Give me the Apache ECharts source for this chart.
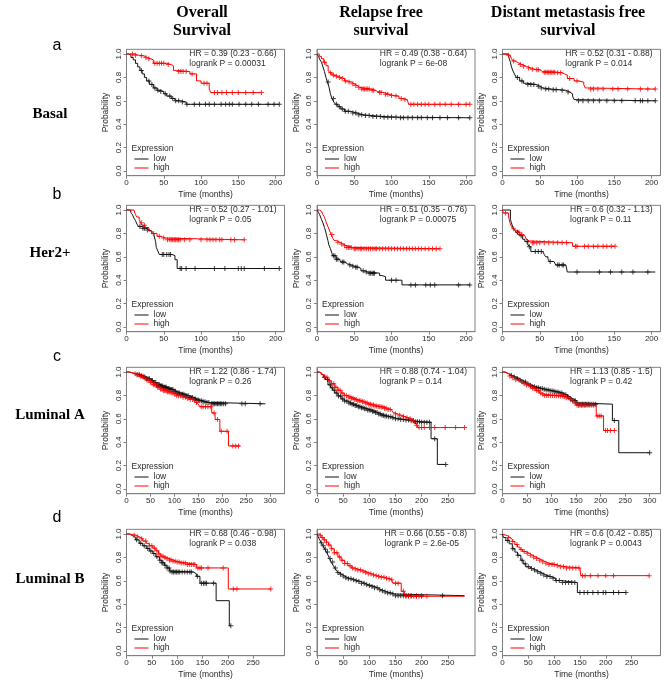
<!DOCTYPE html>
<html><head><meta charset="utf-8">
<script src="https://cdn.jsdelivr.net/npm/echarts@6/dist/echarts.min.js"></script>
<style>html,body{margin:0;padding:0;background:#fff}#c{width:669px;height:682px}</style>
</head><body><div id="c"></div>
<script>
// ---------- tick labels ----------
const probTicks = [0, 0.2, 0.4, 0.6, 0.8, 1.0];
const ticks200 = [0, 50, 100, 150, 200];
const ticks250 = [0, 50, 100, 150, 200, 250];
const ticks300 = [0, 50, 100, 150, 200, 250, 300];

const colTitles = ['Overall\nSurvival', 'Relapse free\nsurvival', 'Distant metastasis free\nsurvival'];
const rowLetters = ['a', 'b', 'c', 'd'];
const rowNames = ['Basal', 'Her2+', 'Luminal A', 'Luminal B'];

// ---------- Basal ----------
const basalOS_low = [[0,1],[3,0.99],[6,0.97],[9,0.95],[12,0.92],[15,0.89],[18,0.86],[21,0.83],[24,0.8],[27,0.77],[31,0.74],[36,0.71],[41,0.69],[45,0.68],[50,0.66],[54,0.64],[60,0.62],[65,0.6],[72,0.59],[80,0.57],[205,0.57]];
const basalOS_high = [[0,1],[10,0.99],[16,0.985],[23,0.97],[28,0.96],[32,0.95],[36,0.92],[54,0.91],[60,0.9],[63,0.86],[67,0.85],[85,0.83],[94,0.77],[100,0.75],[111,0.7],[113,0.67],[181,0.67]];
const basalOS_lowCens = [20,30,34,38,42,46,52,58,62,66,70,75,81,91,98,106,111,118,127,133,138,142,151,160,168,177,190,198,205];
const basalOS_highCens = [8,12,20,26,30,38,41,44,47,50,56,70,73,76,80,88,104,108,118,122,128,134,142,150,160,170,181];
const basalOS_hr = ['HR = 0.39 (0.23 - 0.66)', 'logrank P = 0.00031'];

const basalRFS_low = [[0,1],[2,0.98],[4,0.95],[6,0.93],[8,0.89],[10,0.85],[12,0.8],[14,0.76],[16,0.72],[18,0.66],[20,0.62],[22.5,0.59],[25,0.57],[28,0.55],[32,0.53],[37,0.51],[45,0.495],[54,0.48],[62,0.475],[72,0.465],[90,0.46],[110,0.455],[205,0.455]];
const basalRFS_high = [[0,1],[3,0.98],[6,0.96],[9,0.93],[12,0.9],[15,0.86],[17,0.84],[20,0.82],[23,0.81],[28,0.8],[32,0.79],[37,0.77],[41,0.76],[46,0.745],[50,0.73],[54,0.715],[57,0.7],[72,0.69],[78,0.68],[81,0.67],[90,0.655],[97,0.645],[103,0.64],[110,0.62],[116,0.61],[121,0.6],[123,0.57],[205,0.57]];
const basalRFS_lowCens = [15,22,26,30,34,38,42,48,52,56,60,65,70,75,80,85,90,95,100,106,112,116,122,128,135,140,148,155,165,175,190,205];
const basalRFS_highCens = [10,18,22,26,30,34,38,43,48,52,56,60,62,64,66,68,70,74,76,84,86,92,95,100,106,113,118,126,130,135,140,145,150,158,165,172,180,190,200,205];
const basalRFS_hr = ['HR = 0.49 (0.38 - 0.64)', 'logrank P = 6e-08'];

const basalDMFS_low = [[0,1],[7.5,0.985],[9,0.96],[10.6,0.93],[12,0.89],[14,0.855],[16,0.83],[18.5,0.8],[23,0.77],[28,0.75],[32,0.74],[45,0.725],[50,0.71],[54,0.7],[65,0.695],[76,0.69],[85,0.675],[90,0.66],[94,0.64],[96,0.61],[98,0.6],[205,0.6]];
const basalDMFS_high = [[0,1],[5,0.99],[10,0.98],[12,0.96],[14,0.94],[17,0.925],[21,0.91],[26,0.895],[32,0.88],[38,0.87],[43,0.865],[50,0.85],[54,0.845],[72,0.84],[80,0.83],[83,0.82],[87,0.79],[96,0.77],[102,0.76],[109,0.74],[111,0.71],[114,0.7],[205,0.7]];
const basalDMFS_lowCens = [20,26,34,38,42,48,52,58,62,68,72,80,88,102,108,115,122,130,140,150,160,178,185,188,195,205];
const basalDMFS_highCens = [8,15,24,28,35,40,46,48,56,58,60,62,64,66,68,70,74,78,90,100,118,122,128,135,148,155,168,185,195,205];
const basalDMFS_hr = ['HR = 0.52 (0.31 - 0.88)', 'logrank P = 0.014'];

// ---------- Her2+ ----------
const her2OS_low = [[0,1],[5.7,0.98],[8,0.96],[10,0.93],[12,0.91],[14,0.88],[16,0.86],[21,0.845],[26,0.83],[30,0.82],[34,0.8],[37,0.78],[39,0.73],[40,0.68],[42,0.65],[44,0.62],[61,0.61],[65,0.575],[68,0.5],[205,0.5]];
const her2OS_high = [[0,1],[10,0.985],[12,0.96],[14,0.94],[17,0.92],[19,0.89],[21,0.87],[25,0.85],[30,0.82],[34,0.8],[41,0.775],[46,0.76],[52,0.745],[158,0.745]];
const her2OS_lowCens = [18,22,24,28,48,50,54,57,59,72,74,80,92,118,132,150,154,158,185,205];
const her2OS_highCens = [20,24,36,44,50,55,58,60,62,64,66,68,70,72,78,85,100,108,112,116,120,125,128,140,145,158];
const her2OS_hr = ['HR = 0.52 (0.27 - 1.01)', 'logrank P = 0.05'];

const her2RFS_low = [[0,1],[2,0.98],[3.5,0.96],[6,0.92],[8,0.89],[10,0.85],[11,0.83],[13,0.78],[14.6,0.74],[16,0.7],[18,0.67],[20,0.63],[21,0.61],[25.6,0.58],[30,0.565],[32,0.555],[37,0.54],[41,0.53],[46,0.52],[50,0.51],[56,0.5],[59,0.48],[64,0.47],[68,0.46],[84,0.44],[87,0.43],[92,0.4],[114,0.36],[205,0.36]];
const her2RFS_high = [[0,1],[3,0.99],[6,0.985],[8,0.96],[10,0.94],[12,0.9],[14.6,0.86],[17,0.82],[19,0.79],[21,0.76],[23,0.74],[26,0.725],[30,0.71],[35,0.695],[39,0.68],[48,0.668],[165,0.668]];
const her2RFS_lowCens = [22,24,26,28,34,36,44,48,52,54,62,66,70,72,74,76,77,100,106,126,132,146,152,158,190,205];
const her2RFS_highCens = [20,28,33,37,40,42,44,46,50,52,55,58,60,63,66,69,72,75,78,80,84,88,92,96,100,104,108,112,116,120,124,128,132,136,140,145,150,155,160,165];
const her2RFS_hr = ['HR = 0.51 (0.35 - 0.76)', 'logrank P = 0.00075'];

const her2DMFS_low = [[0,1],[10.6,0.92],[12,0.89],[14,0.85],[16,0.83],[18.5,0.81],[21,0.79],[23,0.78],[27,0.75],[30,0.73],[34,0.7],[36,0.685],[38,0.645],[54,0.64],[56,0.62],[58,0.6],[61,0.58],[63,0.56],[69,0.55],[71.5,0.53],[85,0.525],[87,0.47],[205,0.47]];
const her2DMFS_high = [[0,1],[1,0.975],[8,0.95],[10,0.89],[12,0.86],[14,0.84],[16,0.825],[18.5,0.81],[23,0.79],[27,0.78],[30,0.765],[32,0.75],[34,0.735],[36,0.72],[94,0.69],[151,0.69]];
const her2DMFS_lowCens = [20,25,33,36,44,48,52,64,74,76,80,82,100,130,145,160,175,195];
const her2DMFS_highCens = [4,15,22,26,40,42,46,50,56,62,68,74,80,86,98,100,110,115,122,128,135,140,146,151];
const her2DMFS_hr = ['HR = 0.6 (0.32 - 1.13)', 'logrank P = 0.11'];

// ---------- Luminal A ----------
const lumAOS_low = [[0,1],[5,0.995],[10,0.99],[15,0.985],[21,0.977],[28,0.967],[35,0.957],[42,0.943],[49,0.928],[56,0.91],[63,0.89],[70,0.88],[77,0.87],[84,0.86],[91,0.85],[98,0.835],[105,0.82],[113,0.81],[122,0.797],[131,0.783],[140,0.77],[147,0.76],[153,0.754],[160,0.746],[167,0.74],[174,0.728],[290,0.728]];
const lumAOS_high = [[0,1],[5,0.996],[10,0.99],[15,0.985],[21,0.977],[28,0.963],[35,0.948],[42,0.93],[49,0.913],[56,0.89],[63,0.87],[70,0.855],[77,0.84],[84,0.83],[91,0.82],[98,0.81],[105,0.797],[115,0.785],[126,0.774],[133,0.764],[140,0.754],[144,0.74],[147,0.725],[150,0.712],[153,0.704],[178,0.65],[185,0.594],[195,0.493],[213,0.368],[237,0.368]];
const lumAOS_lowCens = [22,27,31,35,38,42,45,48,51,54,57,59,61,63,65,67,69,71,73,75,77,79,81,83,85,87,89,91,93,95,97,99,102,105,108,111,114,117,120,123,126,129,132,135,138,141,144,147,150,153,157,160,164,168,172,178,181,184,187,190,193,196,199,203,207,241,248,279];
const lumAOS_highCens = [18,24,29,34,39,43,47,50,53,56,59,62,65,68,71,74,77,80,83,86,89,93,97,101,105,109,113,118,123,128,133,138,146,156,160,165,170,176,183,190,198,210,222,228,234];
const lumAOS_hr = ['HR = 1.22 (0.86 - 1.74)', 'logrank P = 0.26'];

const lumARFS_low = [[0,1],[4,0.99],[8,0.975],[12,0.955],[16,0.935],[21,0.89],[26,0.865],[30,0.845],[34,0.82],[40,0.795],[46,0.77],[52,0.752],[59,0.736],[65,0.725],[72,0.714],[78,0.704],[85,0.694],[91,0.685],[97,0.675],[104,0.664],[110,0.653],[116,0.642],[123,0.63],[129,0.623],[135,0.617],[142,0.608],[148,0.6],[157,0.595],[167,0.59],[176,0.583],[186,0.575],[200,0.57],[218,0.43],[230,0.21],[246,0.21]];
const lumARFS_high = [[0,1],[4,0.995],[8,0.977],[14,0.955],[21,0.925],[27,0.9],[34,0.87],[40,0.845],[46,0.82],[52,0.8],[59,0.786],[65,0.775],[72,0.764],[78,0.755],[85,0.745],[91,0.735],[97,0.725],[104,0.717],[110,0.71],[116,0.705],[123,0.7],[129,0.69],[135,0.68],[142,0.67],[145,0.655],[148,0.64],[155,0.63],[161,0.62],[168,0.61],[174,0.6],[180,0.586],[186,0.56],[190,0.545],[193,0.525],[282,0.525]];
const lumARFS_lowCens = [15,20,25,29,33,37,41,45,49,53,57,61,64,67,70,73,76,79,82,85,88,91,94,97,100,103,106,109,112,115,118,121,124,127,130,133,137,141,145,150,155,160,165,170,175,180,184,188,192,196,200,205,210,215,225,246];
const lumARFS_highCens = [14,19,24,28,32,36,40,44,48,52,56,60,63,66,69,72,75,78,81,84,87,90,93,96,99,102,105,108,111,114,117,120,123,126,129,132,136,140,150,158,165,172,178,184,190,195,200,205,215,225,245,265,282];
const lumARFS_hr = ['HR = 0.88 (0.74 - 1.04)', 'logrank P = 0.14'];

const lumADMFS_low = [[0,1],[5,0.99],[10,0.98],[15,0.97],[20,0.958],[27,0.945],[34,0.93],[41,0.915],[48,0.897],[55,0.885],[61,0.875],[68,0.866],[75,0.858],[82,0.852],[89,0.847],[96,0.84],[102,0.835],[109,0.828],[116,0.82],[123,0.805],[130,0.79],[137,0.773],[143,0.757],[150,0.736],[155,0.725],[224,0.585],[237,0.31],[300,0.31]];
const lumADMFS_high = [[0,1],[5,0.99],[10,0.98],[15,0.965],[20,0.95],[27,0.933],[34,0.916],[41,0.902],[48,0.888],[55,0.874],[61,0.86],[68,0.84],[75,0.82],[80,0.81],[85,0.8],[109,0.797],[116,0.794],[123,0.79],[130,0.78],[136,0.766],[142,0.75],[147,0.736],[150,0.715],[191,0.625],[206,0.5],[230,0.5]];
const lumADMFS_lowCens = [18,24,30,36,42,47,52,57,61,65,69,73,77,81,85,89,93,97,101,105,109,113,117,121,125,129,133,138,143,148,152,156,160,163,166,169,172,175,178,182,186,190,228,300];
const lumADMFS_highCens = [15,21,27,33,39,44,49,54,58,62,66,70,74,78,82,86,90,94,98,102,106,110,114,118,122,126,130,134,139,144,148,152,155,158,161,164,167,170,174,178,182,186,193,197,201,210,214,220,228];
const lumADMFS_hr = ['HR = 1.13 (0.85 - 1.5)', 'logrank P = 0.42'];

// ---------- Luminal B ----------
const lumBOS_low = [[0,1],[6,0.985],[12,0.97],[18,0.95],[25,0.92],[32,0.9],[39,0.876],[45,0.855],[52,0.833],[58,0.805],[65,0.776],[70,0.755],[75,0.733],[80,0.71],[85,0.684],[88,0.675],[132,0.66],[138,0.638],[145,0.58],[177,0.43],[203,0.215],[206,0.215]];
const lumBOS_high = [[0,1],[6,0.995],[12,0.99],[18,0.975],[25,0.96],[32,0.94],[39,0.92],[45,0.9],[52,0.88],[58,0.856],[63,0.83],[68,0.81],[73,0.8],[78,0.79],[85,0.778],[92,0.767],[98,0.76],[105,0.753],[118,0.74],[138,0.71],[201,0.53],[285,0.53]];
const lumBOS_lowCens = [20,28,35,42,48,54,60,66,70,72,76,80,84,86,90,93,96,99,102,105,110,115,120,125,128,140,148,152,155,158,172,206];
const lumBOS_highCens = [15,22,30,38,45,50,55,60,64,68,72,76,80,85,88,92,96,100,104,108,112,116,120,124,128,132,135,141,145,148,161,191,211,218,285];
const lumBOS_hr = ['HR = 0.68 (0.46 - 0.98)', 'logrank P = 0.038'];

const lumBRFS_low = [[0,1],[2,0.98],[5,0.95],[8,0.925],[11.5,0.9],[15,0.87],[18,0.846],[21,0.82],[24,0.79],[27,0.76],[30.5,0.734],[34,0.71],[37,0.69],[40,0.672],[43,0.655],[48,0.64],[53,0.627],[59,0.617],[65.5,0.608],[72,0.6],[78,0.594],[85,0.58],[91,0.566],[98,0.56],[104,0.552],[110,0.54],[116,0.524],[122,0.514],[129,0.504],[135,0.495],[142,0.487],[148,0.473],[282,0.473]];
const lumBRFS_high = [[0,1],[4,0.99],[8,0.97],[13,0.95],[18,0.93],[22,0.905],[27,0.874],[33,0.84],[40,0.804],[46,0.775],[53,0.748],[59,0.728],[65.5,0.71],[72,0.7],[78,0.692],[85,0.682],[91,0.672],[98,0.66],[104,0.65],[110,0.643],[116,0.636],[122,0.63],[129,0.622],[135,0.615],[142,0.608],[145,0.58],[161,0.51],[167,0.487],[170,0.468],[282,0.468]];
const lumBRFS_lowCens = [8,12,16,20,25,30,35,40,45,50,55,60,65,70,75,80,85,90,95,100,105,110,115,120,125,130,135,140,145,150,155,160,165,170,175,180,190,200,240];
const lumBRFS_highCens = [6,10,14,18,23,28,33,38,43,48,53,58,63,68,73,78,83,88,93,98,103,108,113,118,123,128,133,138,143,150,155,165,170,175,180,185,190,195,200,210];
const lumBRFS_hr = ['HR = 0.66 (0.55 - 0.8)', 'logrank P = 2.6e-05'];

const lumBDMFS_low = [[0,1],[2,0.97],[6.5,0.944],[13,0.916],[19,0.874],[24,0.845],[29,0.818],[35.5,0.776],[40,0.745],[45,0.72],[52,0.705],[58,0.692],[65,0.678],[71,0.664],[78,0.65],[84,0.636],[93.5,0.622],[103,0.602],[113,0.585],[145,0.5],[239,0.5]];
const lumBDMFS_high = [[0,1],[2,0.985],[9.7,0.97],[14,0.955],[19,0.936],[24,0.91],[29,0.888],[34,0.868],[39,0.85],[45,0.835],[52,0.818],[58,0.804],[64.5,0.79],[71,0.776],[77,0.762],[84,0.75],[90,0.74],[103,0.728],[112,0.72],[122.6,0.71],[150,0.706],[151.6,0.644],[284,0.644]];
const lumBDMFS_lowCens = [10,20,30,38,44,50,56,62,68,74,80,86,92,98,104,110,116,122,128,134,140,150,158,165,175,185,195,200,215,225,239];
const lumBDMFS_highCens = [12,20,28,36,42,48,54,60,66,72,78,84,90,96,100,106,112,118,124,130,136,142,148,155,160,170,185,200,215,284];
const lumBDMFS_hr = ['HR = 0.6 (0.42 - 0.85)', 'logrank P = 0.0043'];

// ---------- panel wiring ----------
const panels = [
  {row:0,col:0,xMax:212,ticks:ticks200,low:basalOS_low,high:basalOS_high,lowC:basalOS_lowCens,highC:basalOS_highCens,hr:basalOS_hr},
  {row:0,col:1,xMax:212,ticks:ticks200,low:basalRFS_low,high:basalRFS_high,lowC:basalRFS_lowCens,highC:basalRFS_highCens,hr:basalRFS_hr},
  {row:0,col:2,xMax:212,ticks:ticks200,low:basalDMFS_low,high:basalDMFS_high,lowC:basalDMFS_lowCens,highC:basalDMFS_highCens,hr:basalDMFS_hr},
  {row:1,col:0,xMax:212,ticks:ticks200,low:her2OS_low,high:her2OS_high,lowC:her2OS_lowCens,highC:her2OS_highCens,hr:her2OS_hr},
  {row:1,col:1,xMax:212,ticks:ticks200,low:her2RFS_low,high:her2RFS_high,lowC:her2RFS_lowCens,highC:her2RFS_highCens,hr:her2RFS_hr},
  {row:1,col:2,xMax:212,ticks:ticks200,low:her2DMFS_low,high:her2DMFS_high,lowC:her2DMFS_lowCens,highC:her2DMFS_highCens,hr:her2DMFS_hr},
  {row:2,col:0,xMax:330,ticks:ticks300,low:lumAOS_low,high:lumAOS_high,lowC:lumAOS_lowCens,highC:lumAOS_highCens,hr:lumAOS_hr},
  {row:2,col:1,xMax:302,ticks:ticks250,low:lumARFS_low,high:lumARFS_high,lowC:lumARFS_lowCens,highC:lumARFS_highCens,hr:lumARFS_hr},
  {row:2,col:2,xMax:322,ticks:ticks300,low:lumADMFS_low,high:lumADMFS_high,lowC:lumADMFS_lowCens,highC:lumADMFS_highCens,hr:lumADMFS_hr},
  {row:3,col:0,xMax:312,ticks:ticks250,low:lumBOS_low,high:lumBOS_high,lowC:lumBOS_lowCens,highC:lumBOS_highCens,hr:lumBOS_hr},
  {row:3,col:1,xMax:302,ticks:ticks250,low:lumBRFS_low,high:lumBRFS_high,lowC:lumBRFS_lowCens,highC:lumBRFS_highCens,hr:lumBRFS_hr},
  {row:3,col:2,xMax:306,ticks:ticks250,low:lumBDMFS_low,high:lumBDMFS_high,lowC:lumBDMFS_lowCens,highC:lumBDMFS_highCens,hr:lumBDMFS_hr}
];

// ---------- layout ----------
const W = 669;
const colLeft = [126.5, 317, 502.5];
const boxW = 158;
const rowY1 = [54, 210, 372, 534];   // pixel y of probability 1.0
const unit = 117;                    // pixels per probability 1.0
const LOW = '#111111', HIGH = '#ff0000', BOX = '#808080', TXT = '#2a2a2a';
const SANS = 'Liberation Sans';
const CROSS = 'path://M4,0H6V4H10V6H6V10H4V6H0V4H4Z';

function survAt(curve, t) {
  let s = 1;
  for (const p of curve) { if (p[0] <= t) s = p[1]; else break; }
  return s;
}

const option = {animation:false, backgroundColor:'#fff', grid:[], xAxis:[], yAxis:[], series:[], title:[], legend:[], graphic:[]};

panels.forEach((p, i) => {
  const L = colLeft[p.col];
  const y1 = rowY1[p.row];
  const top = y1 - 0.04 * unit;
  const h = 1.08 * unit;
  const y0 = y1 + unit;
  option.grid.push({left:L, top:top, width:boxW, height:h, show:true, borderColor:BOX, borderWidth:1, backgroundColor:'transparent', containLabel:false});
  option.xAxis.push({
    type:'value', gridIndex:i, min:0, max:p.xMax,
    name:'Time (months)', nameLocation:'middle', nameGap:14,
    nameTextStyle:{fontSize:8.5, color:TXT, fontFamily:SANS},
    axisLine:{show:true, onZero:false, lineStyle:{color:BOX, width:1}},
    axisTick:{show:true, inside:false, length:3, customValues:p.ticks, lineStyle:{color:BOX}},
    axisLabel:{show:true, customValues:p.ticks, fontSize:8, color:TXT, fontFamily:SANS, margin:3},
    splitLine:{show:false}
  });
  option.yAxis.push({
    type:'value', gridIndex:i, min:-0.04, max:1.04,
    name:'Probability', nameLocation:'middle', nameGap:16, nameRotate:90,
    nameTextStyle:{fontSize:8.5, color:TXT, fontFamily:SANS},
    axisLine:{show:true, onZero:false, lineStyle:{color:BOX, width:1}},
    axisTick:{show:true, inside:false, length:3, customValues:probTicks, lineStyle:{color:BOX}},
    axisLabel:{show:true, customValues:probTicks, rotate:90, fontSize:8, color:TXT, fontFamily:SANS, margin:4,
               formatter:v => v.toFixed(1)},
    splitLine:{show:false}
  });
  const mk = (curve, name, color) => ({
    type:'line', name:name, xAxisIndex:i, yAxisIndex:i, data:curve, step:'end',
    showSymbol:false, symbol:'none', color:color, lineStyle:{color:color, width:1}, z:2
  });
  const mkC = (times, curve, name, color) => ({
    type:'scatter', name:name, xAxisIndex:i, yAxisIndex:i,
    data: times.map(t => [t, survAt(curve, t)]),
    symbol:CROSS, symbolSize:5, itemStyle:{color:color}, z:3
  });
  option.series.push(mk(p.low, 'low', LOW), mk(p.high, 'high', HIGH),
                     mkC(p.lowC, p.low, 'lowCens', LOW), mkC(p.highC, p.high, 'highCens', HIGH));
  option.title.push({
    text:p.hr.join('\n'), right:W - (L + boxW) + 8, top:y1 - 5, padding:0,
    textStyle:{fontSize:8.5, fontWeight:'normal', color:TXT, fontFamily:SANS, lineHeight:9.5}
  });
  option.title.push({
    text:'Expression', left:L + 5, top:y0 - 27, padding:0,
    textStyle:{fontSize:8.5, fontWeight:'normal', color:TXT, fontFamily:SANS, lineHeight:9}
  });
  option.legend.push({
    data:['low','high'], orient:'vertical', left:L + 8, top:y0 - 16.5, padding:0,
    itemWidth:14, itemHeight:1, itemGap:0, icon:'rect', selectedMode:false,
    textStyle:{fontSize:8.5, color:TXT, fontFamily:SANS, lineHeight:9}
  });
});

// column headers, row letters and row names
const headerX = [202, 381, 568];
colTitles.forEach((t, c) => option.graphic.push({
  type:'text', x:headerX[c], y:4, silent:true,
  style:{text:t, align:'center', verticalAlign:'top', font:'bold 16px "Liberation Serif"', lineHeight:18, fill:'#000'}
}));
const letterY = [46, 195, 357, 518];
const nameY = [114, 253, 415, 579];
rowLetters.forEach((t, r) => option.graphic.push({
  type:'text', x:57, y:letterY[r], silent:true,
  style:{text:t, align:'center', verticalAlign:'middle', font:'16px "Liberation Sans"', fill:'#000'}
}));
rowNames.forEach((t, r) => option.graphic.push({
  type:'text', x:50, y:nameY[r], silent:true,
  style:{text:t, align:'center', verticalAlign:'middle', font:'bold 15px "Liberation Serif"', fill:'#000'}
}));

const chart = echarts.init(document.getElementById('c'), null, {renderer:'canvas', width:669, height:682});
chart.setOption(option);
</script></body></html>
